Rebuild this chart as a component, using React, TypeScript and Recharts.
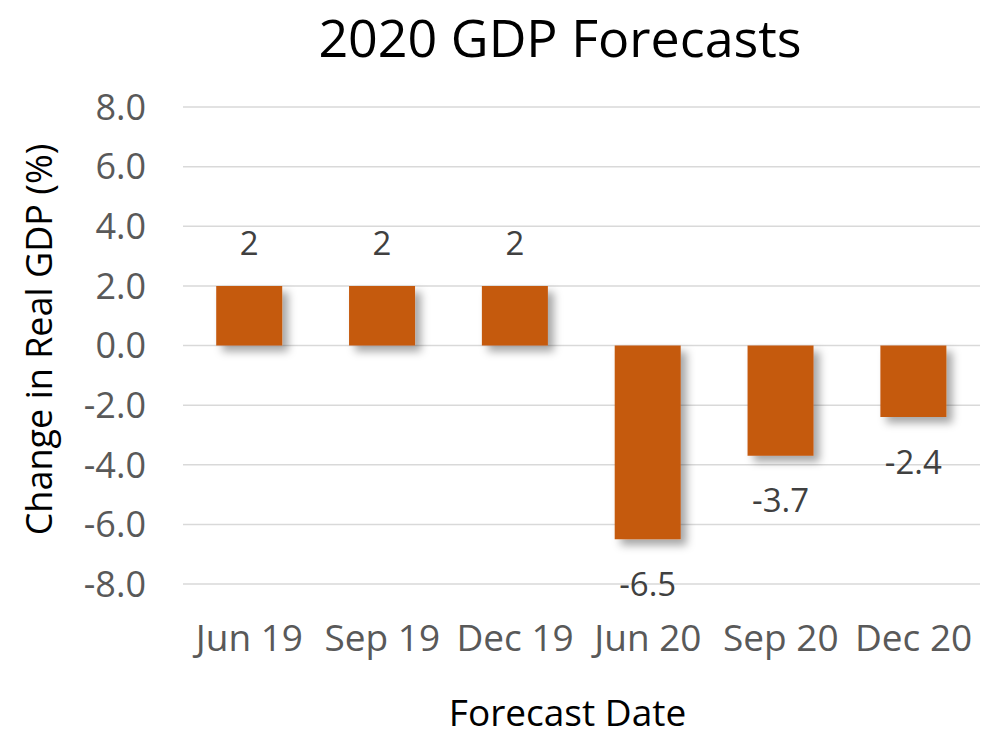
import React from 'react';
import { BarChart, Bar, XAxis, YAxis, CartesianGrid, LabelList, Label } from 'recharts';

const categories = ['Jun 19', 'Sep 19', 'Dec 19', 'Jun 20', 'Sep 20', 'Dec 20'];
const forecasts = [2, 2, 2, -6.5, -3.7, -2.4];
const yTicks = [-8, -6, -4, -2, 0, 2, 4, 6, 8];

const data = categories.map((name, i) => ({ name, gdp: forecasts[i] }));

const FONT = '"Open Sans", "Noto Sans", sans-serif';

const BarValue = (props: any) => {
    const { x, y, width, height, value } = props;
    const top = Math.min(y, y + height);
    const bottom = Math.max(y, y + height);
    const cx = x + width / 2;
    const ty = value >= 0 ? top - 43 : bottom + 44;
    return (
        <text x={cx} y={ty} textAnchor="middle" dominantBaseline="central" fill="#404040" fontSize={33} fontFamily={FONT}>
            {value}
        </text>
    );
};

const YTitle = (props: any) => {
    const { viewBox } = props;
    const cy = viewBox.y + viewBox.height / 2 - 6;
    return (
        <text
            x={38}
            y={cy}
            transform={`rotate(-90, 38, ${cy})`}
            textAnchor="middle"
            dominantBaseline="central"
            fill="#000"
            fontSize={36}
            fontFamily={FONT}
        >
            Change in Real GDP (%)
        </text>
    );
};

// x title sits a little left of the plot centre, like the original
const XTitle = (props: any) => {
    const { viewBox } = props;
    const cx = viewBox.x + viewBox.width / 2 - 14;
    return (
        <text x={cx} y={726} textAnchor="middle" fill="#000" fontSize={37} fontFamily={FONT}>
            Forecast Date
        </text>
    );
};

export default function App() {
    return (
        <div style={{ position: 'absolute', left: 0, top: 0, width: 982, height: 737, background: '#fff', fontFamily: FONT }}>
            <div
                style={{
                    position: 'absolute',
                    left: 560,
                    top: 1,
                    transform: 'translateX(-50%)',
                    whiteSpace: 'nowrap',
                    fontSize: 52,
                    lineHeight: 'normal',
                    color: '#000',
                }}
            >
                2020 GDP Forecasts
            </div>
            <BarChart width={982} height={737} data={data} margin={{ top: 107, right: 2, left: 0, bottom: 0 }} barCategoryGap="25%">
                <defs>
                    <filter id="barShadow" x="-20%" y="-20%" width="150%" height="150%">
                        <feDropShadow dx={6} dy={6} stdDeviation={4} floodColor="#000" floodOpacity={0.35} />
                    </filter>
                </defs>
                <CartesianGrid vertical={false} stroke="#d9d9d9" strokeWidth={1.5} />
                <XAxis
                    dataKey="name"
                    height={153}
                    axisLine={false}
                    tickLine={false}
                    tickSize={0}
                    tickMargin={41}
                    tick={{ fill: '#595959', fontSize: 37, fontFamily: FONT }}
                    interval={0}
                >
                    <Label content={<XTitle />} />
                </XAxis>
                <YAxis
                    width={183}
                    domain={[-8, 8]}
                    ticks={yTicks}
                    axisLine={false}
                    tickLine={false}
                    tickSize={0}
                    tickMargin={37}
                    tickFormatter={(v: number) => v.toFixed(1)}
                    tick={{ fill: '#595959', fontSize: 36, fontFamily: FONT }}
                >
                    <Label content={<YTitle />} />
                </YAxis>
                <Bar dataKey="gdp" fill="#C55A11" filter="url(#barShadow)" isAnimationActive={false}>
                    <LabelList dataKey="gdp" content={<BarValue />} />
                </Bar>
            </BarChart>
        </div>
    );
}
